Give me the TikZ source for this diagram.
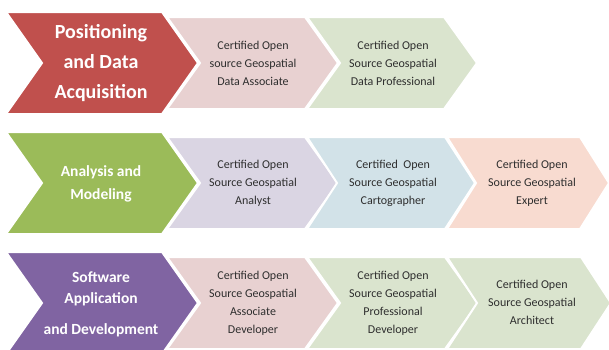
\documentclass[tikz,border=0pt]{standalone}
\usepackage{fontspec}
\setmainfont{Carlito}
\definecolor{bigred}{HTML}{C0504D}
\definecolor{biggreen}{HTML}{9BBB59}
\definecolor{bigpurple}{HTML}{8064A2}
\definecolor{lpink}{HTML}{E8D1D1}
\definecolor{lgreen}{HTML}{DAE4CE}
\definecolor{llav}{HTML}{DAD5E3}
\definecolor{lblue}{HTML}{D2E2E8}
\definecolor{lsalmon}{HTML}{F8DBD0}
\newcommand\chevshape[6]{% x0, ymid, w, halfh, depth, colour
  \fill[#6, draw=white, line width=2pt, line join=miter]
    ({#1},{#2-#4}) -- ++({#3},0) -- ++({#5},{#4}) -- ++({-#5},{#4})
    -- ++({-#3},0) -- ++({#5},{-#4}) -- cycle;}
\begin{document}
\begin{tikzpicture}[x=1pt,y=-1pt,
  bigtxt/.style={text=white, align=center, font=\bfseries\fontsize{20}{30}\selectfont},
  midtxt/.style={text=white, align=center, font=\bfseries\fontsize{15.5}{23}\selectfont},
  smalltxt/.style={text=black!82, align=center, font=\fontsize{12}{18}\selectfont}]
\path[use as bounding box] (0,0) rectangle (609,349);
\clip (0,0) rectangle (609,349);
% row 1
\chevshape{6}{63}{156}{51}{36}{bigred}
\chevshape{167}{63}{138}{46}{33}{lpink}
\chevshape{307}{63}{137}{46}{33}{lgreen}
\node[bigtxt] (pda) at (101,63) {Positioning\\and Data\\Acquisition};
\node[smalltxt] (c1) at (253,63) {Certified Open\\source Geospatial\\Data Associate};
\node[smalltxt] (c2) at (393,63) {Certified Open\\Source Geospatial\\Data Professional};
% row 2
\chevshape{6}{183}{156}{51}{36}{biggreen}
\chevshape{167}{183}{138}{46}{33}{llav}
\chevshape{307}{183}{138}{46}{30}{lblue}
\chevshape{447}{183}{133}{46}{29}{lsalmon}
\node[midtxt] (am) at (101,183.5) {Analysis and\\Modeling};
\node[smalltxt] (c3) at (253,183) {Certified Open\\Source Geospatial\\Analyst};
\node[smalltxt] (c4) at (393,183) {Certified\ \ Open\\Source Geospatial\\Cartographer};
\node[smalltxt] (c5) at (532,183) {Certified Open\\Source Geospatial\\Expert};
% row 3
\chevshape{6}{303}{156}{51}{36}{bigpurple}
\chevshape{167}{303}{138}{46}{33}{lpink}
\chevshape{307}{303}{138}{46}{33}{lgreen}
\chevshape{447}{303}{134}{46}{30}{lgreen}
\node[midtxt, font=\bfseries\fontsize{15.5}{21}\selectfont] (sad) at (101,304) {Software\\Application\\[10pt]and Development};
\node[smalltxt] (c6) at (253,303) {Certified Open\\Source Geospatial\\Associate\\Developer};
\node[smalltxt] (c7) at (393,303) {Certified Open\\Source Geospatial\\Professional\\Developer};
\node[smalltxt] (c8) at (532,302) {Certified Open\\Source Geospatial\\Architect};
\end{tikzpicture}
\end{document}
